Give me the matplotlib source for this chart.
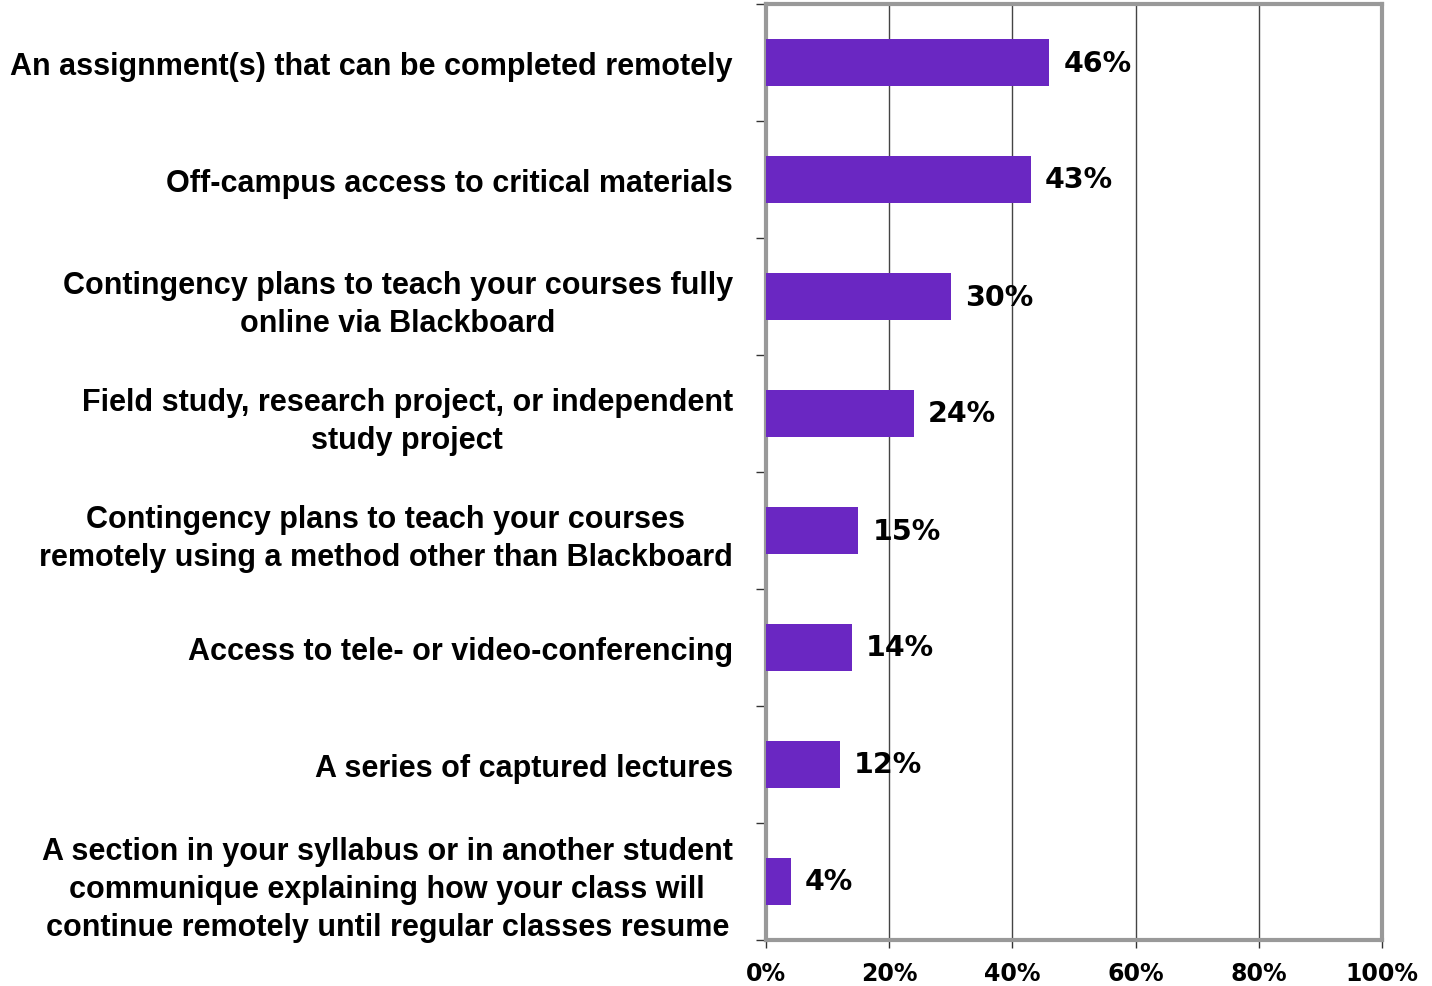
import matplotlib
matplotlib.use("Agg")
import matplotlib.pyplot as plt
import numpy as np

categories = [
    "An assignment(s) that can be completed remotely",
    "Off-campus access to critical materials",
    "Contingency plans to teach your courses fully\nonline via Blackboard",
    "Field study, research project, or independent\nstudy project",
    "Contingency plans to teach your courses\nremotely using a method other than Blackboard",
    "Access to tele- or video-conferencing",
    "A series of captured lectures",
    "A section in your syllabus or in another student\ncommunique explaining how your class will\ncontinue remotely until regular classes resume",
]
values = [46, 43, 30, 24, 15, 14, 12, 4]
xticks = [0, 20, 40, 60, 80, 100]
xtick_labels = ["0%", "20%", "40%", "60%", "80%", "100%"]

fig = plt.figure(figsize=(14.32, 9.87), dpi=100)
ax = fig.add_axes([766/1432, 1-941/987, (1382-766)/1432, (941-5)/987])

n = len(categories)
y = np.arange(n)
ax.barh(y, values, height=0.4, color="#6A27C2", zorder=3)
ax.set_ylim(n-0.5, -0.5)
ax.set_xlim(0, 100)

for yi, v in zip(y, values):
    ax.annotate(f"{v}%", xy=(v, yi), xytext=(10, 0), textcoords="offset points",
                va="center", ha="left", fontsize=20.5, fontweight="bold",
                family="DejaVu Sans", color="black", zorder=4)

ax.set_yticks(y)
ax.set_yticklabels(categories, fontsize=22, fontweight="bold", family="Liberation Sans")
for t in ax.get_yticklabels():
    t.set_multialignment("center")
    t.set_linespacing(1.35)
ax.tick_params(axis="y", which="major", length=0, pad=24)
ax.set_yticks(np.arange(-0.5, n, 1.0), minor=True)
ax.tick_params(axis="y", which="minor", length=7, width=1, color="#333333", direction="out")

ax.set_xticks(xticks)
ax.set_xticklabels(xtick_labels, fontsize=17, fontweight="bold", family="DejaVu Sans")
ax.tick_params(axis="x", length=6, width=1, color="#333333", direction="out", pad=9)

ax.grid(axis="x", color="#444444", linewidth=1, zorder=1)
ax.set_axisbelow(True)
for s in ax.spines.values():
    s.set_color("#999999")
    s.set_linewidth(3)

fig.savefig("out.png", dpi=100)
